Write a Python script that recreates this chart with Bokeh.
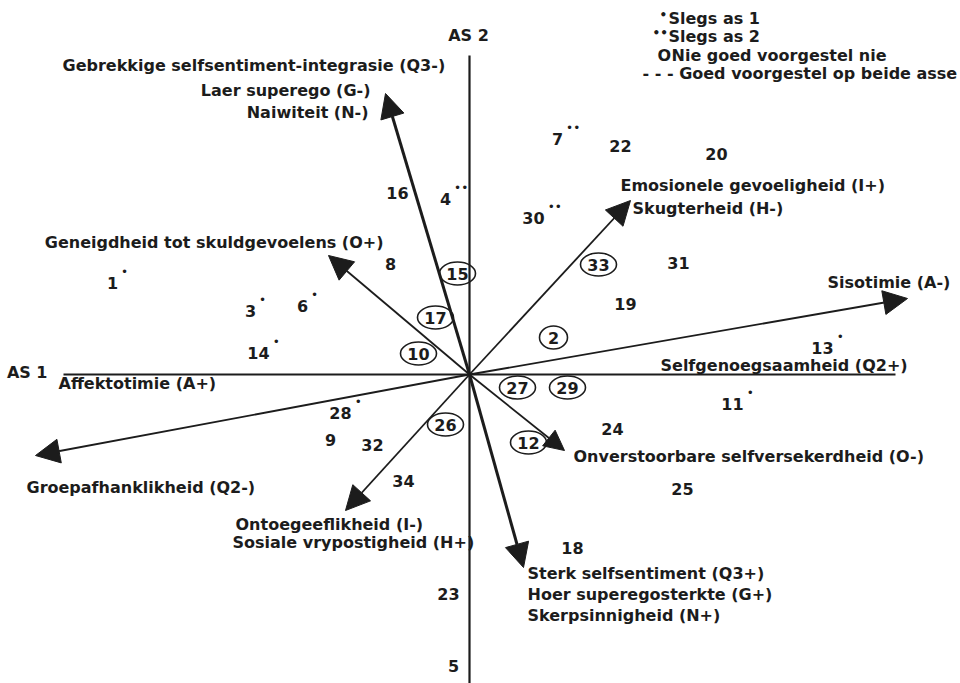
from bokeh.plotting import figure
from bokeh.models import ColumnDataSource, Arrow, NormalHead, Label
from bokeh.core.properties import value
from bokeh.embed import file_html
from bokeh.resources import INLINE

# ---------------- data (scores on AS 1 / AS 2) ----------------
# respondents well represented on both axes
both_ids = ["16", "8", "9", "32", "34", "23", "5", "22", "20", "31", "19", "24", "25", "18"]
both_x = [-0.72, -0.79, -1.39, -0.97, -0.66, -0.21, -0.16, 1.51, 2.47, 2.09, 1.56, 1.43, 2.13, 1.03]
both_y = [1.82, 1.11, -0.65, -0.70, -1.06, -2.19, -2.91, 2.29, 2.21, 1.12, 0.71, -0.54, -1.14, -1.73]

# respondents represented only on AS 1 (*)
as1_ids = ["1", "3", "6", "14", "28", "13", "11"]
as1_x = [-3.57, -2.19, -1.67, -2.11, -1.29, 3.53, 2.63]
as1_y = [0.92, 0.64, 0.69, 0.22, -0.38, 0.27, -0.29]

# respondents represented only on AS 2 (**)
as2_ids = ["4", "7", "30"]
as2_x = [-0.24, 0.88, 0.64]
as2_y = [1.76, 2.36, 1.57]

# respondents not well represented (circled)
poor_ids = ["15", "17", "10", "33", "2", "27", "29", "26", "12"]
poor_x = [-0.12, -0.34, -0.51, 1.29, 0.84, 0.48, 0.98, -0.24, 0.59]
poor_y = [1.01, 0.57, 0.21, 1.10, 0.37, -0.13, -0.13, -0.50, -0.68]

# factor vectors (arrow tips)
factor_keys = ["Q3-", "O+", "Q2-", "I-", "Q3+", "O-", "A-", "I+"]
factor_x = [-0.84, -1.41, -4.34, -1.24, 0.54, 0.95, 4.38, 1.61]
factor_y = [2.81, 1.19, -0.81, -1.36, -1.93, -0.76, 0.76, 1.74]

# axes extents
as1_extent = (-4.06, 4.26)
as2_extent = (-3.20, 3.19)

# ---------------- figure ----------------
FONT_NAME = "DejaVu Sans"
FONT = value(FONT_NAME)
INK = "#1c1c1c"
FS = "16px"
W, H = 960, 683

p = figure(width=W, height=H, x_range=(-4.69, 4.91), y_range=(-3.09, 3.74),
           output_backend="svg", toolbar_location=None, min_border=0)
p.axis.visible = False
p.grid.visible = False
p.outline_line_color = None
p.background_fill_color = "white"

# axes
p.segment(x0=[as1_extent[0]], y0=[0], x1=[as1_extent[1]], y1=[0], line_color=INK, line_width=2)
p.segment(x0=[0], y0=[as2_extent[0]], x1=[0], y1=[as2_extent[1]], line_color=INK, line_width=2.2)

# arrows
thick = {"Q3-": 3.0, "Q3+": 3.0}
head = {"O-": 20}
for k, fx, fy in zip(factor_keys, factor_x, factor_y):
    lw = thick.get(k, 1.8)
    p.add_layout(Arrow(x_start=0, y_start=0, x_end=fx, y_end=fy, line_color=INK, line_width=lw,
                       end=NormalHead(size=head.get(k, 24), fill_color=INK, line_color=INK,
                                      line_width=1)))

# factor labels: (arrow key, text, dx, dy, align)
label_layout = [
    ("Q3-", "Gebrekkige selfsentiment-integrasie (Q3-)", -323, -28, "left"),
    ("Q3-", "Laer superego (G-)", -15, -3, "right"),
    ("Q3-", "Naiwiteit (N-)", -17, 19, "right"),
    ("O+", "Geneigdheid tot skuldgevoelens (O+)", 55, -13, "right"),
    ("I+", "Emosionele gevoeligheid (I+)", -10, -15, "left"),
    ("I+", "Skugterheid (H-)", 2, 8, "left"),
    ("A-", "Sisotimie (A-)", -80, -16, "left"),
    ("A-", "Selfgenoegsaamheid (Q2+)", -247, 67, "left"),
    ("Q2-", "Affektotimie (A+)", 23, -72, "left"),
    ("Q2-", "Groepafhanklikheid (Q2-)", -9, 32, "left"),
    ("I-", "Ontoegeeflikheid (I-)", -110, 14, "left"),
    ("I-", "Sosiale vrypostigheid (H+)", -113, 32, "left"),
    ("O-", "Onverstoorbare selfversekerdheid (O-)", 9, 6, "left"),
    ("Q3+", "Sterk selfsentiment (Q3+)", 4, 6, "left"),
    ("Q3+", "Hoer superegosterkte (G+)", 4, 27, "left"),
    ("Q3+", "Skerpsinnigheid (N+)", 4, 48, "left"),
]
tips = dict(zip(factor_keys, zip(factor_x, factor_y)))
for key, txt, dx, dy, align in label_layout:
    tx, ty = tips[key]
    p.text(x=[tx], y=[ty], text=[txt], x_offset=dx, y_offset=dy, text_align=align,
           text_baseline="middle", text_font=FONT, text_font_style="bold",
           text_font_size=FS, text_color=INK)

# axis titles
p.text(x=[as1_extent[0]], y=[0], text=["AS 1"], x_offset=-16, y_offset=-2, text_align="right",
       text_baseline="middle", text_font=FONT, text_font_style="bold", text_font_size=FS, text_color=INK)
p.text(x=[0], y=[as2_extent[1]], text=["AS 2"], x_offset=-1, y_offset=-20, text_align="center",
       text_baseline="middle", text_font=FONT, text_font_style="bold", text_font_size=FS, text_color=INK)

def num_text(ids, xs, ys):
    src = ColumnDataSource(dict(x=xs, y=ys, t=ids))
    p.text(x="x", y="y", text="t", source=src, text_align="center", text_baseline="middle",
           text_font=FONT, text_font_style="bold", text_font_size=FS, text_color=INK)

num_text(both_ids, both_x, both_y)
num_text(as1_ids, as1_x, as1_y)
num_text(as2_ids, as2_x, as2_y)
num_text(poor_ids, poor_x, poor_y)

# star marks (positioned right of the number)
for ids, xs, ys, mark in [(as1_ids, as1_x, as1_y, "•"), (as2_ids, as2_x, as2_y, "••")]:
    for i, x, y in zip(ids, xs, ys):
        p.text(x=[x], y=[y], text=[mark], x_offset=5.6 * len(i) + 3, y_offset=-11,
               text_align="left", text_baseline="middle", text_font=FONT,
               text_font_size="12px", text_color=INK)

# circles around poorly represented respondents
ew = [36 if len(i) > 1 else 28 for i in poor_ids]
p.ellipse(x=poor_x, y=poor_y, width=ew, height=[23] * len(poor_ids),
          width_units="screen", height_units="screen",
          fill_color=None, line_color=INK, line_width=1.6)

# legend (screen coordinates, measured from bottom-left of frame)
def leg(x, ytop, txt, size=FS):
    p.add_layout(Label(x=x, y=H - ytop, x_units="screen", y_units="screen", text=txt,
                       text_font=FONT_NAME, text_font_style="bold", text_font_size=size,
                       text_color=INK, text_baseline="middle", text_align="left"))

leg(659, 14, "•", "12px")
leg(668, 18, "Slegs as 1")
leg(652, 32, "••", "12px")
leg(668, 36, "Slegs as 2")
leg(657, 55, "O")
leg(671, 55, "Nie goed voorgestel nie")
leg(642, 73, "- - - Goed voorgestel op beide asse")

open("out.html", "w").write(file_html(p, INLINE))
